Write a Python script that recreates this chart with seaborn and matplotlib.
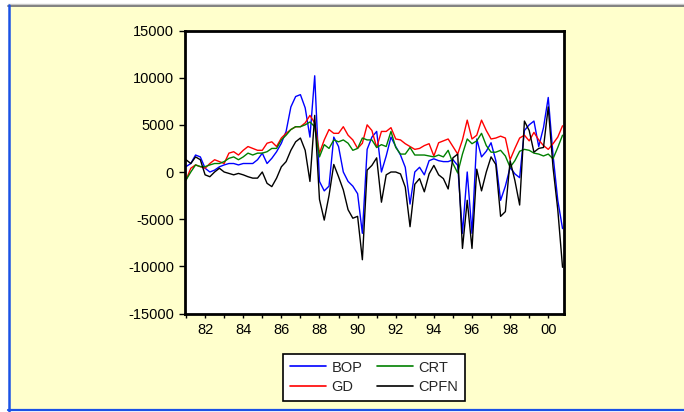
import numpy as np
import pandas as pd
import matplotlib
matplotlib.use("Agg")
import matplotlib.pyplot as plt
from matplotlib.patches import Rectangle
from matplotlib.lines import Line2D
from matplotlib.ticker import FixedLocator, FixedFormatter
import seaborn as sns

# Quarterly observations, 1981Q1 - 2000Q4
quarters = pd.period_range("1981Q1", "2000Q4", freq="Q")

bop = [570, 900, 1800, 1600, 400, 0, 200, 550, 750, 900,
       900, 750, 900, 900, 900, 1300, 2000, 900, 1450, 2150,
       3050, 4300, 6900, 8000, 8200, 6800, 3700, 10200, -1000, -2000,
       -1500, 3700, 2700, 0, -1000, -1500, -2300, -6500, 2400, 3700,
       4300, 0, 1700, 3700, 2700, 1800, 500, -3400, 0, 500,
       -300, 1200, 1400, 1200, 1100, 1100, 1300, 700, -6500, 0,
       -6500, 3500, 1600, 2200, 3100, 1200, -3000, -1500, 500, -200,
       -600, 4400, 5000, 5400, 2700, 4700, 7900, 1800, -3000, -6000]

gd = [-850, 400, 750, 570, 400, 900, 1300, 1100, 900, 2000,
      2150, 1800, 2300, 2700, 2500, 2300, 2300, 3050, 3200, 2700,
      3600, 4100, 4500, 4800, 4800, 5200, 6000, 5200, 2000, 3400,
      4500, 4100, 4100, 4800, 3900, 3400, 2500, 3050, 5000, 4400,
      2600, 4300, 4300, 4700, 3500, 3400, 3000, 2700, 2400, 2500,
      2800, 3000, 1700, 3100, 3300, 3500, 2700, 1900, 3400, 5500,
      3500, 3900, 5500, 4400, 3500, 3600, 3800, 3600, 1300, 2500,
      3600, 3900, 3300, 4200, 3400, 2800, 2400, 3000, 3700, 4900]

crt = [-850, 0, 750, 570, 570, 750, 900, 900, 1100, 1450,
       1600, 1300, 1600, 2000, 1800, 2000, 2000, 2150, 2500, 2500,
       3400, 3900, 4500, 4800, 4800, 5000, 5300, 4800, 1600, 2900,
       2500, 3400, 3200, 3400, 3050, 2300, 2500, 3600, 3400, 3400,
       2600, 2900, 2700, 4300, 2600, 1900, 1900, 2600, 1800, 1800,
       1800, 1700, 1600, 1800, 1600, 2300, 900, -100, 1900, 3500,
       3000, 3300, 4100, 2800, 2100, 2100, 2300, 1700, 500, 1200,
       2200, 2400, 2300, 2000, 1900, 1700, 1900, 1400, 2600, 3900]

cpfn = [1300, 900, 1600, 1300, -300, -500, 0, 400, 0, -150,
        -300, -150, -300, -500, -650, -650, 0, -1200, -1550, -650,
        550, 1100, 2300, 3200, 3600, 2300, -1000, 6000, -2900, -5100,
        -2500, 800, -500, -1900, -4000, -4900, -4700, -9300, 200, 700,
        1500, -3200, -300, 0, 0, -200, -1600, -5800, -1300, -700,
        -2100, -200, 700, -300, -700, -1800, 1500, 1900, -8100, -3000,
        -8100, 300, -2000, 0, 1600, 800, -4700, -4200, 1200, -900,
        -3500, 5400, 4400, 2100, 2500, 2600, 6900, 500, -4000, -10100]

series_names = ["BOP", "GD", "CRT", "CPFN"]
series_colors = ["#0000FF", "#FF0000", "#008000", "#000000"]
y_ticks = [-15000, -10000, -5000, 0, 5000, 10000, 15000]
year_ticks = list(range(1981, 2001))
year_labels = ["" if y % 2 else f"{y % 100:02d}" for y in year_ticks]

sns.set_style("ticks")
plt.rcParams["font.family"] = ["Liberation Sans", "DejaVu Sans"]
plt.rcParams["axes.unicode_minus"] = False

t = np.asarray(quarters.year + (quarters.quarter - 1) / 4.0, dtype=float)
df = pd.DataFrame({
    "t": np.tile(t, len(series_names)),
    "value": bop + gd + crt + cpfn,
    "series": np.repeat(series_names, len(quarters)),
})

W, H = 684, 412
fig = plt.figure(figsize=(W / 100, H / 100), dpi=100, facecolor="white")


def fx(px):
    return px / W


def fy(py):
    return 1 - py / H


# window frame and pale yellow background
fig.add_artist(Rectangle((fx(9), fy(409)), fx(684) - fx(9), fy(6) - fy(409),
                         transform=fig.transFigure, facecolor="#FFFFCC",
                         edgecolor="none", zorder=0))
fig.add_artist(Line2D([fx(8), fx(684)], [fy(3.5), fy(3.5)], color="#c8c8c8",
                      lw=1.0, transform=fig.transFigure))
fig.add_artist(Line2D([fx(8), fx(684)], [fy(5.5), fy(5.5)], color="#808080",
                      lw=1.4, transform=fig.transFigure))
fig.add_artist(Line2D([fx(8.5), fx(8.5)], [fy(5), fy(411)], color="#1a52e6",
                      lw=1.8, transform=fig.transFigure))
fig.add_artist(Line2D([fx(8), fx(684)], [fy(410), fy(410)], color="#1a52e6",
                      lw=1.6, transform=fig.transFigure))

ax = fig.add_axes([fx(184.5), fy(313.5), fx(563.5) - fx(184.5), fy(30.5) - fy(313.5)])
ax.set_facecolor("white")

sns.lineplot(data=df, x="t", y="value", hue="series", hue_order=series_names,
             palette=dict(zip(series_names, series_colors)), linewidth=1.0,
             ax=ax, legend=True)

ax.set_xlim(1980.92, 2000.80)
ax.set_ylim(-15000, 15000)
ax.xaxis.set_major_locator(FixedLocator(year_ticks))
ax.xaxis.set_major_formatter(FixedFormatter(year_labels))
ax.yaxis.set_major_locator(FixedLocator(y_ticks))
ax.yaxis.set_major_formatter(FixedFormatter([str(v) for v in y_ticks]))
ax.set_xlabel("")
ax.set_ylabel("")
ax.tick_params(axis="x", direction="out", length=3, width=1.0, pad=3.5,
               labelsize=10.5, colors="black")
ax.tick_params(axis="y", direction="out", length=4, width=1.0, pad=3.5,
               labelsize=10.5, colors="black")
for side in ["left", "right", "top", "bottom"]:
    ax.spines[side].set_visible(True)
    ax.spines[side].set_linewidth(2.0)
    ax.spines[side].set_color("black")

handles, labels = ax.get_legend_handles_labels()
for h in handles:
    h.set_linewidth(1.2)
leg = ax.legend(handles, labels, ncol=2, loc="center",
                bbox_to_anchor=(fx(374), fy(377.5)), bbox_transform=fig.transFigure,
                frameon=True, fancybox=False, edgecolor="black", facecolor="white",
                framealpha=1, fontsize=10.5, handlelength=2.5, handletextpad=0.35,
                columnspacing=1.0, labelspacing=0.4, borderpad=0.45)
leg.get_frame().set_linewidth(1.2)

fig.savefig("out.png", dpi=100, facecolor=fig.get_facecolor())
